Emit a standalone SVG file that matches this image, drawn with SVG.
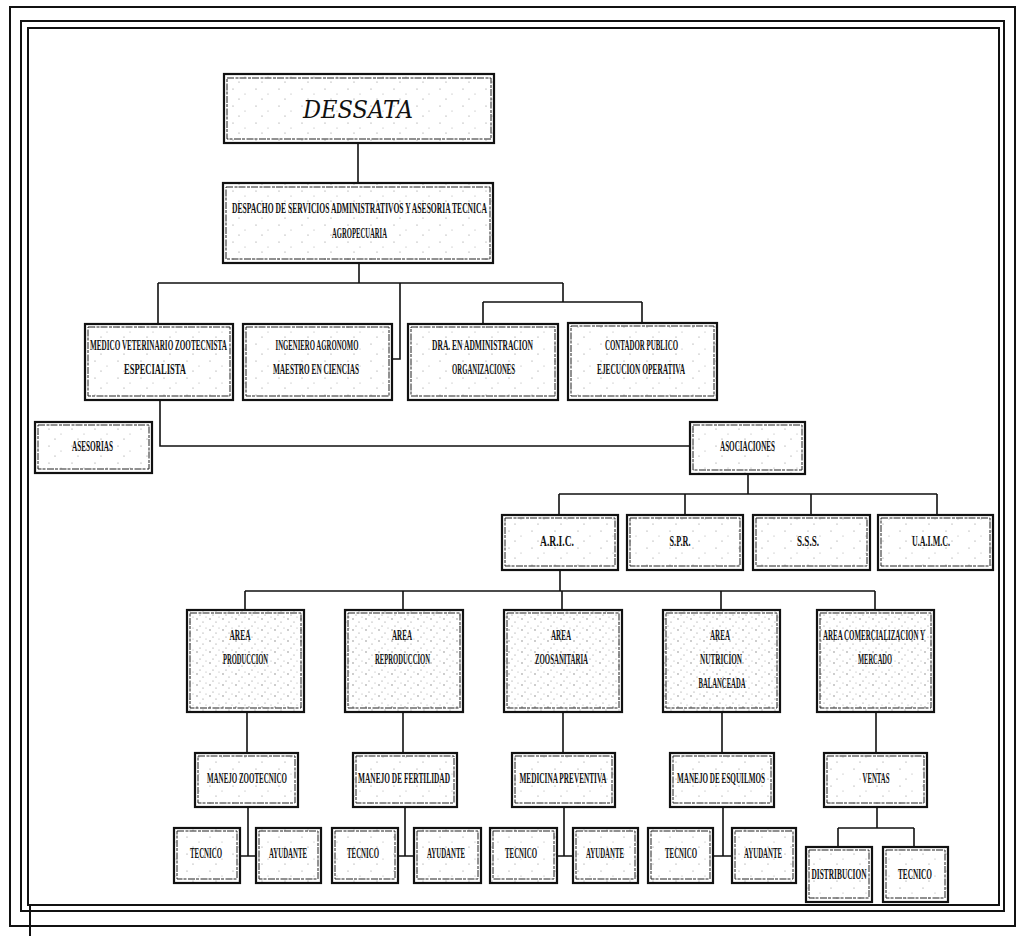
<svg xmlns="http://www.w3.org/2000/svg" width="1024" height="936" viewBox="0 0 1024 936">
<style>
.frame{fill:none;stroke:#111;stroke-width:2}
.box{stroke:#111;stroke-width:2.2}
.in{fill:none;stroke:#222;stroke-width:1;stroke-dasharray:7 1.5 3 1}
.lt{fill:url(#spk)}
.dk{fill:url(#spk2)}
.lbl{font-family:"Liberation Serif","DejaVu Serif",serif;font-weight:bold;font-size:6.5px;fill:#111;text-anchor:middle}
.title{font-family:"DejaVu Serif","Liberation Serif",serif;font-style:italic;font-size:25px;fill:#111;text-anchor:middle}
.con{fill:none;stroke:#111;stroke-width:1.6}
</style>
<defs>
<pattern id="spk" width="23" height="17" patternUnits="userSpaceOnUse">
<rect width="23" height="17" fill="#fff"/>
<circle cx="3" cy="4" r="0.6" fill="#888"/>
<circle cx="15" cy="9" r="0.5" fill="#999"/>
<circle cx="9" cy="14" r="0.6" fill="#888"/>
</pattern>
<pattern id="spk2" width="13" height="11" patternUnits="userSpaceOnUse">
<rect width="13" height="11" fill="#fff"/>
<circle cx="2" cy="3" r="0.7" fill="#777"/>
<circle cx="8" cy="6" r="0.6" fill="#888"/>
<circle cx="5" cy="10" r="0.6" fill="#888"/>
<circle cx="11" cy="1" r="0.5" fill="#999"/>
</pattern>
</defs>
<rect width="1024" height="936" fill="#fff"/>
<g id="frame">
<rect class="frame" x="10" y="7" width="1005" height="919"/>
<rect class="frame" x="21" y="21" width="983" height="890"/>
<rect class="frame" x="28" y="28" width="971" height="877" stroke-width="1.6"/>
<path class="frame" d="M30,905 V936"/>
</g>
<g id="connectors">
<path class="con" d="M358,143 V183"/>
<path class="con" d="M359,263 V283 M158,283 H563 M158,283 V324 M400,283 V359 H392 M563,283 V302 M483,302 H642 M483,302 V323 M642,302 V323"/>
<path class="con" d="M160,400 V446 H690"/>
<path class="con" d="M748,474 V494 M559,494 H937 M559,494 V515 M685,494 V515 M811,494 V515 M937,494 V515"/>
<path class="con" d="M560,570 V591 M245,591 H875 M245,591 V610 M403,591 V610 M562,591 V610 M721,591 V610 M875,591 V610"/>
<path class="con" d="M247,712 V753 M403,712 V753 M563,712 V753 M722,712 V753 M876,712 V753"/>
<path class="con" d="M248,807 V856 M240,856 H256 M405,807 V856 M398,856 H414 M564,807 V856 M557,856 H573 M723,807 V856 M713,856 H732"/>
<path class="con" d="M877,807 V828 M838,828 H914 M838,828 V847 M914,828 V847"/>
</g>
<g id="n-dessata">
<rect class="box lt" x="224" y="74" width="270" height="69"/>
<rect class="in" x="227" y="78" width="264" height="61"/>
<text class="title" x="358" y="118" textLength="110" lengthAdjust="spacingAndGlyphs">DESSATA</text>
</g>
<g id="n-despacho">
<rect class="box lt" x="223" y="183" width="270" height="80"/>
<rect class="in" x="226" y="187" width="264" height="72"/>
<text class="lbl" transform="translate(359.5,213) scale(1,2.2)" textLength="255" lengthAdjust="spacingAndGlyphs">DESPACHO DE SERVICIOS ADMINISTRATIVOS Y ASESORIA TECNICA</text>
<text class="lbl" transform="translate(359.5,238) scale(1,2.2)" textLength="55" lengthAdjust="spacingAndGlyphs">AGROPECUARIA</text>
</g>
<g id="n-medico">
<rect class="box lt" x="85" y="324" width="148" height="76"/>
<rect class="in" x="88" y="327" width="142" height="69"/>
<text class="lbl" transform="translate(158.5,350) scale(1,2.2)" textLength="137" lengthAdjust="spacingAndGlyphs">MEDICO VETERINARIO ZOOTECNISTA</text>
<text class="lbl" transform="translate(155,374) scale(1,2.2)" textLength="62" lengthAdjust="spacingAndGlyphs">ESPECIALISTA</text>
</g>
<g id="n-ingeniero">
<rect class="box lt" x="243" y="324" width="149" height="76"/>
<rect class="in" x="246" y="327" width="143" height="69"/>
<text class="lbl" transform="translate(317,350) scale(1,2.2)" textLength="83" lengthAdjust="spacingAndGlyphs">INGENIERO AGRONOMO</text>
<text class="lbl" transform="translate(316,374) scale(1,2.2)" textLength="86" lengthAdjust="spacingAndGlyphs">MAESTRO EN CIENCIAS</text>
</g>
<g id="n-dra">
<rect class="box lt" x="408" y="324" width="150" height="76"/>
<rect class="in" x="411" y="327" width="144" height="69"/>
<text class="lbl" transform="translate(482.5,350) scale(1,2.2)" textLength="101" lengthAdjust="spacingAndGlyphs">DRA. EN ADMINISTRACION</text>
<text class="lbl" transform="translate(483.5,374) scale(1,2.2)" textLength="63" lengthAdjust="spacingAndGlyphs">ORGANIZACIONES</text>
</g>
<g id="n-contador">
<rect class="box lt" x="568" y="323" width="149" height="77"/>
<rect class="in" x="571" y="326" width="143" height="70"/>
<text class="lbl" transform="translate(641.5,350) scale(1,2.2)" textLength="73" lengthAdjust="spacingAndGlyphs">CONTADOR PUBLICO</text>
<text class="lbl" transform="translate(641,374) scale(1,2.2)" textLength="88" lengthAdjust="spacingAndGlyphs">EJECUCION OPERATIVA</text>
</g>
<g id="n-asesorias">
<rect class="box lt" x="35" y="422" width="117" height="51"/>
<rect class="in" x="38" y="425" width="111" height="44"/>
<text class="lbl" transform="translate(92.5,451) scale(1,2.2)" textLength="41" lengthAdjust="spacingAndGlyphs">ASESORIAS</text>
</g>
<g id="n-asociaciones">
<rect class="box lt" x="690" y="422" width="115" height="52"/>
<rect class="in" x="693" y="425" width="109" height="45"/>
<text class="lbl" transform="translate(747.5,451) scale(1,2.2)" textLength="55" lengthAdjust="spacingAndGlyphs">ASOCIACIONES</text>
</g>
<g id="n-aric">
<rect class="box lt" x="502" y="515" width="116" height="55"/>
<rect class="in" x="505" y="518" width="110" height="48"/>
<text class="lbl" transform="translate(557,546) scale(1,2.2)" textLength="34" lengthAdjust="spacingAndGlyphs">A.R.I.C.</text>
</g>
<g id="n-spr">
<rect class="box lt" x="627" y="515" width="116" height="55"/>
<rect class="in" x="630" y="518" width="110" height="48"/>
<text class="lbl" transform="translate(680,546) scale(1,2.2)" textLength="21" lengthAdjust="spacingAndGlyphs">S.P.R.</text>
</g>
<g id="n-sss">
<rect class="box lt" x="753" y="515" width="117" height="55"/>
<rect class="in" x="756" y="518" width="111" height="48"/>
<text class="lbl" transform="translate(808,546) scale(1,2.2)" textLength="22" lengthAdjust="spacingAndGlyphs">S.S.S.</text>
</g>
<g id="n-uaimc">
<rect class="box lt" x="878" y="515" width="115" height="55"/>
<rect class="in" x="881" y="518" width="109" height="48"/>
<text class="lbl" transform="translate(931,546) scale(1,2.2)" textLength="38" lengthAdjust="spacingAndGlyphs">U.A.I.M.C.</text>
</g>
<g id="n-area-produccion">
<rect class="box dk" x="187" y="610" width="117" height="102"/>
<rect class="in" x="190" y="613" width="111" height="95"/>
<text class="lbl" transform="translate(240,640) scale(1,2.2)" textLength="21" lengthAdjust="spacingAndGlyphs">AREA</text>
<text class="lbl" transform="translate(245.5,664) scale(1,2.2)" textLength="45" lengthAdjust="spacingAndGlyphs">PRODUCCION</text>
</g>
<g id="n-area-reproduccion">
<rect class="box dk" x="345" y="610" width="118" height="102"/>
<rect class="in" x="348" y="613" width="112" height="95"/>
<text class="lbl" transform="translate(402,640) scale(1,2.2)" textLength="20" lengthAdjust="spacingAndGlyphs">AREA</text>
<text class="lbl" transform="translate(402.5,664) scale(1,2.2)" textLength="55" lengthAdjust="spacingAndGlyphs">REPRODUCCION</text>
</g>
<g id="n-area-zoosanitaria">
<rect class="box dk" x="504" y="610" width="118" height="102"/>
<rect class="in" x="507" y="613" width="112" height="95"/>
<text class="lbl" transform="translate(561,640) scale(1,2.2)" textLength="20" lengthAdjust="spacingAndGlyphs">AREA</text>
<text class="lbl" transform="translate(561.5,664) scale(1,2.2)" textLength="53" lengthAdjust="spacingAndGlyphs">ZOOSANITARIA</text>
</g>
<g id="n-area-nutricion">
<rect class="box dk" x="663" y="610" width="117" height="102"/>
<rect class="in" x="666" y="613" width="111" height="95"/>
<text class="lbl" transform="translate(720,640) scale(1,2.2)" textLength="20" lengthAdjust="spacingAndGlyphs">AREA</text>
<text class="lbl" transform="translate(721,664) scale(1,2.2)" textLength="42" lengthAdjust="spacingAndGlyphs">NUTRICION</text>
<text class="lbl" transform="translate(722,688) scale(1,2.2)" textLength="47" lengthAdjust="spacingAndGlyphs">BALANCEADA</text>
</g>
<g id="n-area-comercializacion">
<rect class="box dk" x="817" y="610" width="117" height="102"/>
<rect class="in" x="820" y="613" width="111" height="95"/>
<text class="lbl" transform="translate(874,640) scale(1,2.2)" textLength="102" lengthAdjust="spacingAndGlyphs">AREA COMERCIALIZACION Y</text>
<text class="lbl" transform="translate(875,664) scale(1,2.2)" textLength="34" lengthAdjust="spacingAndGlyphs">MERCADO</text>
</g>
<g id="n-manejo-zootecnico">
<rect class="box lt" x="195" y="753" width="103" height="54"/>
<rect class="in" x="198" y="756" width="97" height="47"/>
<text class="lbl" transform="translate(247,783) scale(1,2.2)" textLength="80" lengthAdjust="spacingAndGlyphs">MANEJO ZOOTECNICO</text>
</g>
<g id="n-manejo-fertilidad">
<rect class="box lt" x="353" y="753" width="104" height="54"/>
<rect class="in" x="356" y="756" width="98" height="47"/>
<text class="lbl" transform="translate(404,783) scale(1,2.2)" textLength="92" lengthAdjust="spacingAndGlyphs">MANEJO DE FERTILIDAD</text>
</g>
<g id="n-medicina-preventiva">
<rect class="box lt" x="512" y="753" width="103" height="54"/>
<rect class="in" x="515" y="756" width="97" height="47"/>
<text class="lbl" transform="translate(563,783) scale(1,2.2)" textLength="87" lengthAdjust="spacingAndGlyphs">MEDICINA PREVENTIVA</text>
</g>
<g id="n-manejo-esquilmos">
<rect class="box lt" x="670" y="753" width="104" height="54"/>
<rect class="in" x="673" y="756" width="98" height="47"/>
<text class="lbl" transform="translate(721,783) scale(1,2.2)" textLength="88" lengthAdjust="spacingAndGlyphs">MANEJO DE ESQUILMOS</text>
</g>
<g id="n-ventas">
<rect class="box lt" x="824" y="753" width="103" height="54"/>
<rect class="in" x="827" y="756" width="97" height="47"/>
<text class="lbl" transform="translate(876,783) scale(1,2.2)" textLength="27" lengthAdjust="spacingAndGlyphs">VENTAS</text>
</g>
<g id="n-tecnico-1">
<rect class="box lt" x="174" y="828" width="66" height="55"/>
<rect class="in" x="177" y="831" width="60" height="48"/>
<text class="lbl" transform="translate(206,858) scale(1,2.2)" textLength="32" lengthAdjust="spacingAndGlyphs">TECNICO</text>
</g>
<g id="n-ayudante-1">
<rect class="box lt" x="256" y="828" width="65" height="55"/>
<rect class="in" x="259" y="831" width="59" height="48"/>
<text class="lbl" transform="translate(288,858) scale(1,2.2)" textLength="38" lengthAdjust="spacingAndGlyphs">AYUDANTE</text>
</g>
<g id="n-tecnico-2">
<rect class="box lt" x="332" y="828" width="66" height="55"/>
<rect class="in" x="335" y="831" width="60" height="48"/>
<text class="lbl" transform="translate(363,858) scale(1,2.2)" textLength="32" lengthAdjust="spacingAndGlyphs">TECNICO</text>
</g>
<g id="n-ayudante-2">
<rect class="box lt" x="414" y="828" width="67" height="55"/>
<rect class="in" x="417" y="831" width="61" height="48"/>
<text class="lbl" transform="translate(446,858) scale(1,2.2)" textLength="38" lengthAdjust="spacingAndGlyphs">AYUDANTE</text>
</g>
<g id="n-tecnico-3">
<rect class="box lt" x="490" y="828" width="67" height="55"/>
<rect class="in" x="493" y="831" width="61" height="48"/>
<text class="lbl" transform="translate(521,858) scale(1,2.2)" textLength="32" lengthAdjust="spacingAndGlyphs">TECNICO</text>
</g>
<g id="n-ayudante-3">
<rect class="box lt" x="573" y="828" width="65" height="55"/>
<rect class="in" x="576" y="831" width="59" height="48"/>
<text class="lbl" transform="translate(605,858) scale(1,2.2)" textLength="38" lengthAdjust="spacingAndGlyphs">AYUDANTE</text>
</g>
<g id="n-tecnico-4">
<rect class="box lt" x="648" y="828" width="65" height="55"/>
<rect class="in" x="651" y="831" width="59" height="48"/>
<text class="lbl" transform="translate(681,858) scale(1,2.2)" textLength="32" lengthAdjust="spacingAndGlyphs">TECNICO</text>
</g>
<g id="n-ayudante-4">
<rect class="box lt" x="732" y="828" width="64" height="55"/>
<rect class="in" x="735" y="831" width="58" height="48"/>
<text class="lbl" transform="translate(763,858) scale(1,2.2)" textLength="38" lengthAdjust="spacingAndGlyphs">AYUDANTE</text>
</g>
<g id="n-distribucion">
<rect class="box lt" x="806" y="847" width="66" height="55"/>
<rect class="in" x="809" y="850" width="60" height="48"/>
<text class="lbl" transform="translate(839,879) scale(1,2.2)" textLength="55" lengthAdjust="spacingAndGlyphs">DISTRIBUCION</text>
</g>
<g id="n-tecnico-5">
<rect class="box lt" x="883" y="847" width="65" height="55"/>
<rect class="in" x="886" y="850" width="59" height="48"/>
<text class="lbl" transform="translate(915,879) scale(1,2.2)" textLength="34" lengthAdjust="spacingAndGlyphs">TECNICO</text>
</g>
</svg>
